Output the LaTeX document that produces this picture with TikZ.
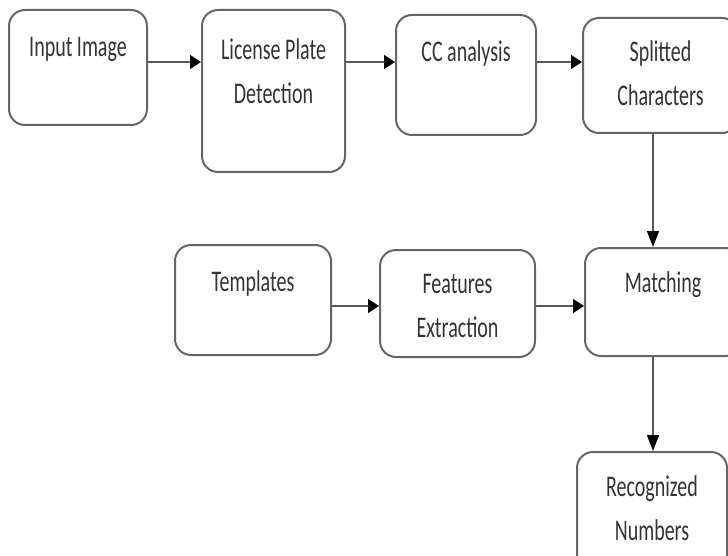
\documentclass[tikz,border=0pt]{standalone}
\usepackage{fontspec}
\setmainfont{Carlito}
\usepackage{graphicx}
\usetikzlibrary{positioning,arrows.meta}
\newcommand{\vtxt}[1]{\scalebox{1}[1.5]{\rule[-4.8pt]{0pt}{19pt}#1}}

\begin{document}
\begin{tikzpicture}[x=1pt,y=-1pt,
  blk/.style={draw=black!60, line width=2pt, rounded corners=16pt, inner sep=0pt},
  lbl/.style={align=center, inner sep=0pt, text=black!80, font=\fontsize{20}{44}\selectfont},
  arr/.style={draw=black!65, line width=1.5pt, -{Triangle[length=11pt,width=14pt,color=black]}},
  varr/.style={draw=black!65, line width=1.3pt, -{Triangle[length=16pt,width=12pt,color=black]}}]
\useasboundingbox (0,0) rectangle (728,556);
\clip (0,0) rectangle (728,556);
\node[blk, minimum width=138pt, minimum height=115pt] (inp) at (78,67.5) {};
\node[blk, minimum width=143pt, minimum height=162pt] (lpd) at (273.5,91) {};
\node[blk, minimum width=140pt, minimum height=120pt] (cca) at (466,75) {};
\node[blk, minimum width=155pt, minimum height=115pt] (spl) at (660.5,75.5) {};
\node[blk, minimum width=156pt, minimum height=110pt] (tpl) at (253,300) {};
\node[blk, minimum width=155pt, minimum height=107pt] (fex) at (457.5,303.5) {};
\node[blk, minimum width=156pt, minimum height=108pt] (mat) at (663,302) {};
\node[blk, minimum width=150pt, minimum height=120pt] (rec) at (652,512) {};
\node[lbl, below=25.7pt of inp.north] (inpt) {\vtxt{Input Image}};
\node[lbl, below=28.7pt of lpd.north] (lpdt) {\vtxt{License Plate}\\\vtxt{Detection}};
\node[lbl, below=25.7pt of cca.north] (ccat) {\vtxt{CC analysis}};
\node[lbl, below=22.7pt of spl.north] (splt) {\vtxt{Splitted}\\\vtxt{Characters}};
\node[lbl, below=25.7pt of tpl.north] (tplt) {\vtxt{Templates}};
\node[lbl, below=22.7pt of fex.north] (fext) {\vtxt{Features}\\\vtxt{Extraction}};
\node[lbl, below=23.7pt of mat.north] (matt) {\vtxt{Matching}};
\node[lbl, below=23.7pt of rec.north] (rect) {\vtxt{Recognized}\\\vtxt{Numbers}};
\coordinate (r1) at (0,62);
\coordinate (r2) at (0,306);
\coordinate (c1) at (653,0);
\draw[arr] (inp.east |- r1) -- (lpd.west |- r1);
\draw[arr] (lpd.east |- r1) -- (cca.west |- r1);
\draw[arr] (cca.east |- r1) -- (spl.west |- r1);
\draw[arr] (tpl.east |- r2) -- (fex.west |- r2);
\draw[arr] (fex.east |- r2) -- (mat.west |- r2);
\draw[varr] (spl.south -| c1) -- (mat.north -| c1);
\draw[varr] (mat.south -| c1) -- (rec.north -| c1);
\end{tikzpicture}
\end{document}
